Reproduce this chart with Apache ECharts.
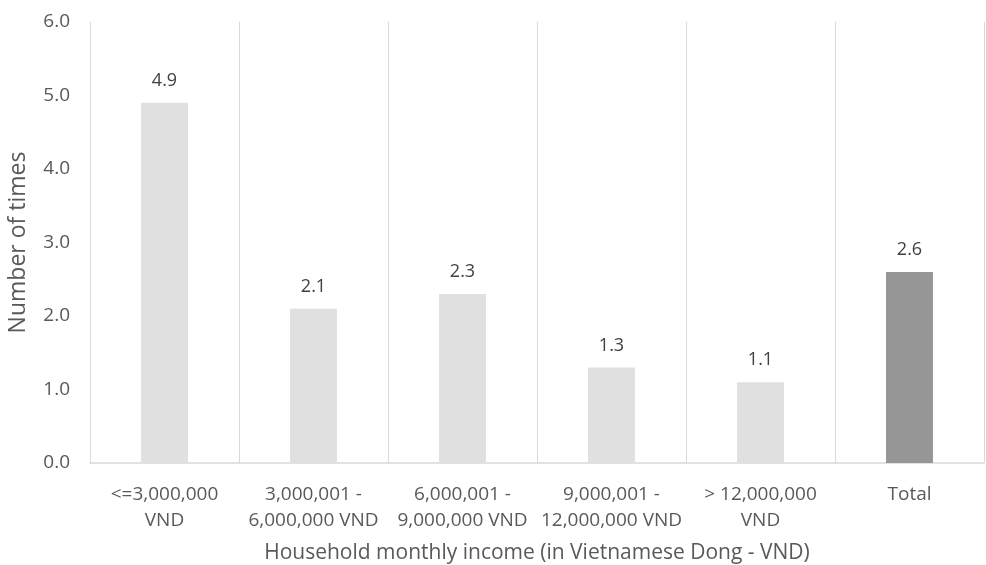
<!DOCTYPE html>
<html><head><meta charset="utf-8">
<script src="https://cdn.jsdelivr.net/npm/echarts@6/dist/echarts.min.js"></script>
<style>html,body{margin:0;padding:0;background:#fff}#c{width:986px;height:565px}</style>
</head><body><div id="c"></div>
<script>
const categories = ["<=3,000,000\nVND", "3,000,001 -\n6,000,000 VND", "6,000,001 -\n9,000,000 VND", "9,000,001 -\n12,000,000 VND", "> 12,000,000\nVND", "Total"];
const values = [4.9, 2.1, 2.3, 1.3, 1.1, 2.6];
const barColors = ["#e0e0e0", "#e0e0e0", "#e0e0e0", "#e0e0e0", "#e0e0e0", "#969696"];
const yTicks = {min: 0, max: 6, interval: 1};
const font = "'Open Sans', 'Noto Sans', sans-serif";
const chart = echarts.init(document.getElementById('c'), null, {renderer: 'canvas'});
chart.setOption({
  animation: false,
  grid: {left: 90, right: 2, top: 22, bottom: 102, containLabel: false, outerBoundsMode: 'none'},
  xAxis: {
    type: 'category', data: categories,
    name: 'Household monthly income (in Vietnamese Dong - VND)',
    nameLocation: 'middle', nameGap: 80,
    nameTextStyle: {color: '#595959', fontSize: 21, fontFamily: font},
    axisLine: {show: true, lineStyle: {color: '#d9d9d9', width: 1.5}},
    axisTick: {show: false},
    splitLine: {show: true, lineStyle: {color: '#d9d9d9', width: 1}},
    axisLabel: {interval: 0, color: '#595959', fontSize: 19, fontFamily: font, margin: 19, lineHeight: 26}
  },
  yAxis: {
    type: 'value', min: yTicks.min, max: yTicks.max, interval: yTicks.interval,
    name: 'Number of times', nameLocation: 'middle', nameGap: 60,
    nameTextStyle: {color: '#595959', fontSize: 23, fontFamily: font},
    axisLine: {show: false}, axisTick: {show: false},
    splitLine: {show: false},
    axisLabel: {color: '#595959', fontSize: 19, fontFamily: font, margin: 20, formatter: v => v.toFixed(1)}
  },
  series: [{
    type: 'bar',
    data: values.map((v, i) => ({value: v, itemStyle: {color: barColors[i]}})),
    barWidth: '31.5%',
    label: {show: true, position: 'top', distance: 13, color: '#404040', fontSize: 18, fontFamily: font, formatter: p => p.value.toFixed(1)}
  }]
});
</script></body></html>
